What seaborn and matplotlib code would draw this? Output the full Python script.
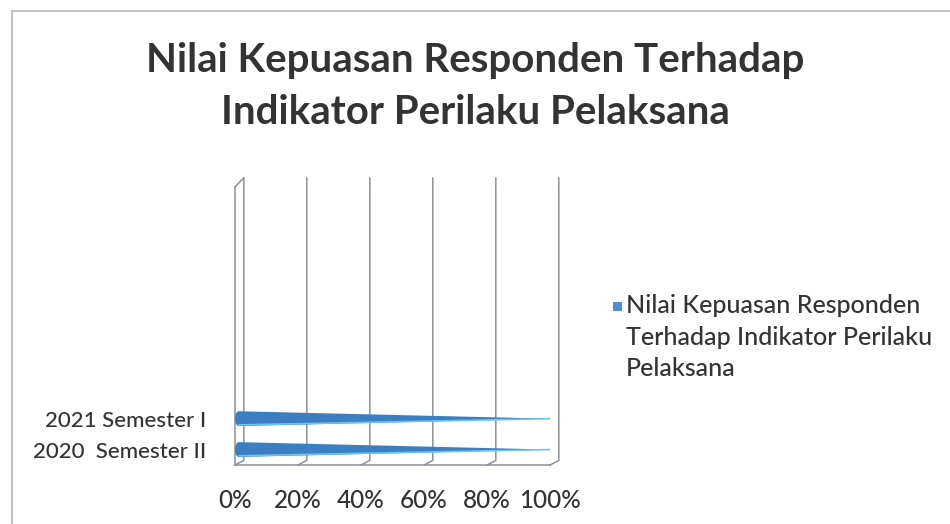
import numpy as np
import pandas as pd
import matplotlib
matplotlib.use("Agg")
import matplotlib.pyplot as plt
import seaborn as sns
from matplotlib.patches import Polygon, Rectangle

# ── данные ──
categories = ["2021 Semester I", "2020  Semester II"]
values = [1.0, 1.0]
series_label = "Nilai Kepuasan Responden\nTerhadap Indikator Perilaku\nPelaksana"
x_ticks = [0, 0.2, 0.4, 0.6, 0.8, 1.0]
x_tick_labels = ["0%", "20%", "40%", "60%", "80%", "100%"]
n_slots = 9

BLUE = "#3a7fc2"
TEXT = "#333333"
GRID = "#8c9199"

sns.set_theme(style="white")
plt.rcParams["font.family"] = ["Lato", "DejaVu Sans"]

df = pd.DataFrame({"periode": categories, "nilai": values})

fig = plt.figure(figsize=(9.5, 5.24), dpi=100)
ax = fig.add_axes([235 / 950, 1 - 465 / 524, 315 / 950, 278 / 524])

sns.barplot(data=df, y="periode", x="nilai", orient="h", color=BLUE,
            width=0.48, ax=ax, zorder=3)

# превращаем прямоугольники в «конусы»
for p in list(ax.patches):
    x0, y0 = p.get_x(), p.get_y()
    w, h = p.get_width(), p.get_height()
    yc = y0 + h / 2
    cap = 0.012
    t = np.linspace(np.pi / 2, 3 * np.pi / 2, 20)
    left = np.column_stack([x0 + cap + cap * np.cos(t), yc - h / 2 * np.sin(t)])
    pts = np.vstack([[[x0 + w, yc]], left])
    p.remove()
    ax.add_patch(Polygon(pts, closed=True, facecolor=BLUE, edgecolor="none", zorder=3))
    ax.plot([x0 + cap, x0 + w], [y0 + h * 0.92, yc], color="#6cc3ee", lw=1.2,
            zorder=4, solid_capstyle="round")

ax.set_xlim(0, 1.0)
ax.set_ylim(len(categories) - 0.5, len(categories) - 0.5 - n_slots)

# сетка с небольшим 3D-смещением
dx = 0.028
top = ax.get_ylim()[1] - 0.3
bot = ax.get_ylim()[0]
for v in x_ticks:
    ax.plot([v + dx, v + dx, v], [top, bot - 0.15, bot], color=GRID, lw=1.1,
            zorder=1, clip_on=False)
ax.plot([0, dx], [ax.get_ylim()[1], top], color=GRID, lw=1.1, clip_on=False)

ax.set_xticks(x_ticks)
ax.set_xticklabels(x_tick_labels, fontsize=17.5, color=TEXT, fontweight="medium")
ax.set_yticks(range(len(categories)))
ax.set_yticklabels(categories, fontsize=16, color=TEXT, fontweight="medium")
ax.set_yticks(np.arange(n_slots + 1) + ax.get_ylim()[1], minor=True)
ax.tick_params(axis="y", which="major", length=0, pad=21)
ax.tick_params(axis="y", which="minor", length=5, direction="out", color=GRID, width=1)
ax.tick_params(axis="x", length=5, direction="out", color=GRID, width=1, pad=12)
ax.set_xlabel("")
ax.set_ylabel("")
for s in ["top", "right"]:
    ax.spines[s].set_visible(False)
for s in ["left", "bottom"]:
    ax.spines[s].set_color(GRID)
    ax.spines[s].set_linewidth(1.1)

# легенда (маркер на уровне первой строки)
fig.patches.append(Rectangle((613 / 950, 1 - 311 / 524), 9 / 950, 9 / 524,
                             transform=fig.transFigure, facecolor="#4a90d0",
                             edgecolor="none"))
fig.text(626 / 950, 1 - 294 / 524, series_label, fontsize=18, color=TEXT,
         fontweight="medium", va="top", ha="left", linespacing=1.45)

fig.suptitle("Nilai Kepuasan Responden Terhadap\nIndikator Perilaku Pelaksana",
             x=0.5, y=1 - 42 / 524, fontsize=29, fontweight="bold", color=TEXT,
             linespacing=1.5, va="top")

# рамка диаграммы
fig.patches.append(Rectangle((12 / 950, -0.05), 1.0, 1 - 11 / 524 + 0.05,
                             transform=fig.transFigure, fill=False,
                             edgecolor="#b5b5b5", lw=1.2))

plt.savefig("out.png", dpi=100)
